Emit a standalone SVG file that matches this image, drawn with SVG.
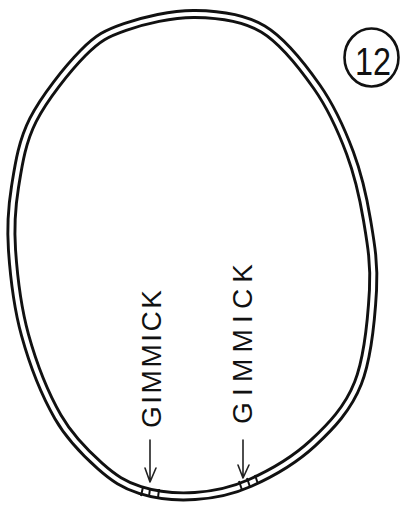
<svg xmlns="http://www.w3.org/2000/svg" width="401" height="505" viewBox="0 0 401 505">
<style>
.ring-o{fill:none;stroke:#111;stroke-width:10;stroke-linejoin:round}
.ring-i{fill:none;stroke:#fff;stroke-width:4.2;stroke-linejoin:round}
.lbl{font-family:"Liberation Sans",Arial,sans-serif;font-size:28px;fill:#111}
.arrow{fill:none;stroke:#222;stroke-width:1.6;stroke-linecap:round;stroke-linejoin:round}
.tick{stroke:#111;stroke-width:2}
</style>
<defs>
<path id="ringPath" d="M195,14 C218,14.3 242.7,16.8 263,29 C283.3,41.2 302.5,66.3 317,87 C331.5,107.7 341.7,130.8 350,153 C358.3,175.2 363.2,197.2 367,220 C370.8,242.8 374.5,262.8 373,290 C371.5,317.2 368,357.5 358,383 C348,408.5 331,426.3 313,443 C295,459.7 269.7,474.2 250,483 C230.3,491.8 213.3,494.8 195,496 C176.7,497.2 155.8,495 140,490 C124.2,485 113.7,478.2 100,466 C86.3,453.8 70.5,438.8 58,417 C45.5,395.2 32.7,362.8 25,335 C17.3,307.2 13.7,274.7 12,250 C10.3,225.3 11.5,208.7 15,187 C18.5,165.3 21.7,142.3 33,120 C44.3,97.7 67.7,68.5 83,53 C98.3,37.5 106.3,33.5 125,27 C143.7,20.5 172,13.7 195,14 Z"/>
</defs>
<rect width="401" height="505" fill="#fff"/>
<g id="ring">
<use href="#ringPath" class="ring-o"/>
<use href="#ringPath" class="ring-i"/>
<g id="marks">
<line class="tick" x1="143" y1="487" x2="141" y2="496"/>
<line class="tick" x1="150" y1="488" x2="149" y2="497"/>
<line class="tick" x1="159" y1="489" x2="158" y2="498"/>
<line class="tick" x1="239" y1="481" x2="242" y2="490"/>
<line class="tick" x1="247" y1="478" x2="250" y2="487"/>
<line class="tick" x1="255" y1="475" x2="258" y2="484"/>
</g>
</g>
<g id="badge">
<ellipse cx="371.5" cy="57.5" rx="27" ry="29" fill="none" stroke="#111" stroke-width="2.6"/>
<text x="373" y="75" text-anchor="middle" font-family="'Liberation Sans',Arial,sans-serif" font-size="38" fill="#111" textLength="36" lengthAdjust="spacingAndGlyphs">12</text>
</g>
<g id="label1">
<text class="lbl" transform="translate(161,428) rotate(-90)" textLength="138" lengthAdjust="spacing">GIMMICK</text>
</g>
<g id="label2">
<text class="lbl" transform="translate(252,424) rotate(-90)" textLength="160" lengthAdjust="spacing">GIMMICK</text>
</g>
<g id="connectors">
<path class="arrow" d="M150,440 L150,482 M145,468 L150,482 L156,468"/>
<path class="arrow" d="M243,440 L243,478 M238,465 L243,478 L249,465"/>
</g>
</svg>
